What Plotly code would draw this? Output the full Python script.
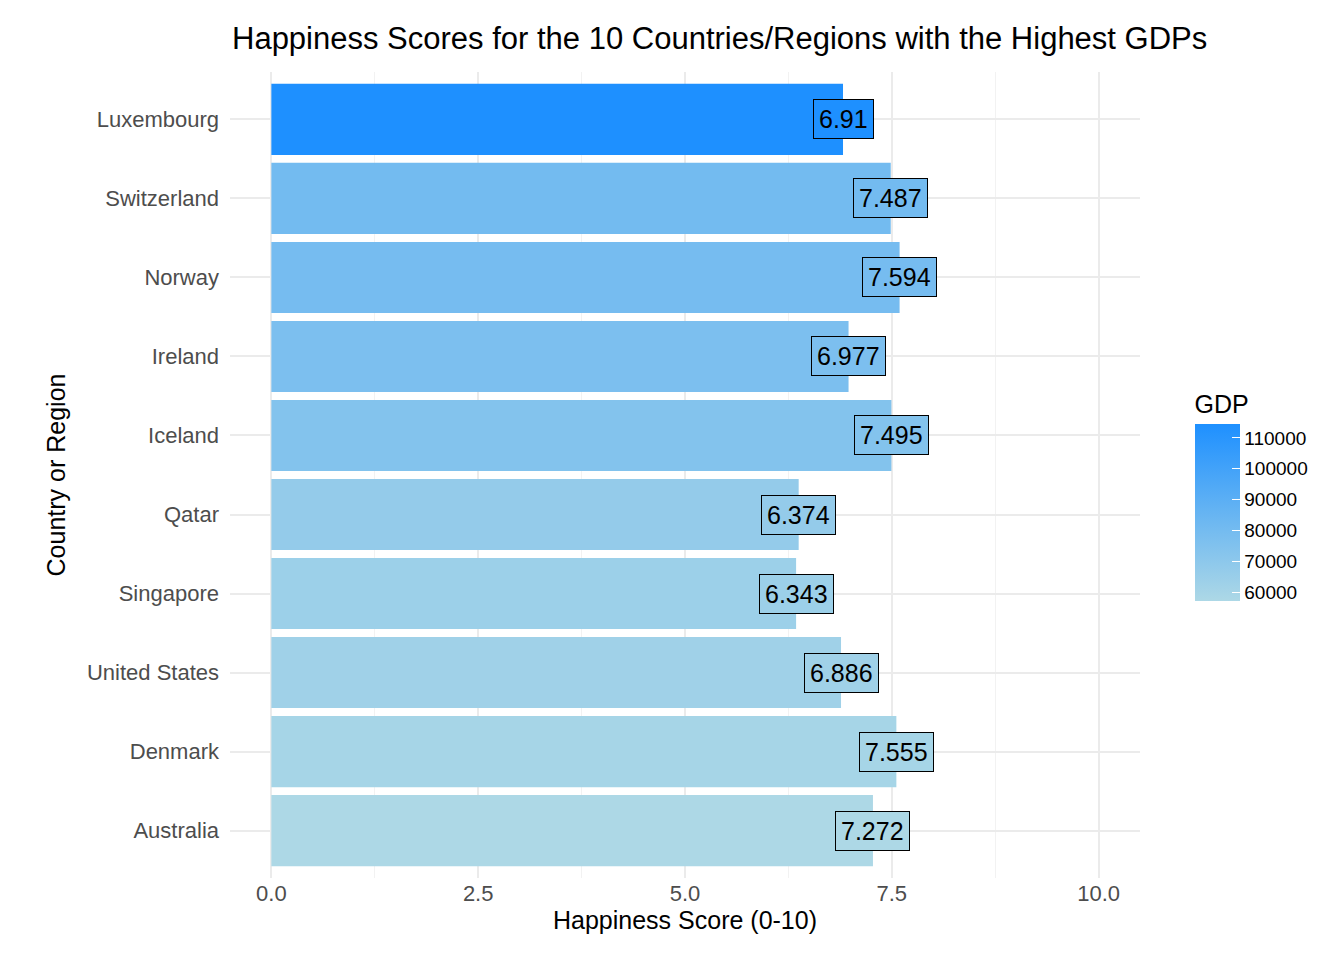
import plotly.graph_objects as go

countries = ["Australia", "Denmark", "United States", "Singapore", "Qatar",
             "Iceland", "Ireland", "Norway", "Switzerland", "Luxembourg"]
scores = [7.272, 7.555, 6.886, 6.343, 6.374, 7.495, 6.977, 7.594, 7.487, 6.91]
gdp = [57300, 60000, 62500, 64000, 67500, 74000, 77000, 79500, 80500, 114500]

lo, hi = (173, 216, 230), (30, 144, 255)
gmin, gmax = min(gdp), max(gdp)


def col(v):
    t = (v - gmin) / (gmax - gmin)
    return "rgb(%d,%d,%d)" % tuple(round(a + (b - a) * t) for a, b in zip(lo, hi))


fig = go.Figure(go.Bar(
    x=scores, y=countries, orientation="h", width=0.9,
    marker=dict(color=gdp, colorscale=[[0, "rgb(173,216,230)"], [1, "rgb(30,144,255)"]],
                cmin=gmin, cmax=gmax, line=dict(width=0),
                colorbar=dict(title=dict(text="GDP", font=dict(size=25, color="#000")),
                              lenmode="pixels", len=230, thickness=45,
                              x=1.049, xanchor="left", y=0.474, yanchor="middle",
                              outlinewidth=0, ticks="inside", ticklen=8, tickcolor="white",
                              tickvals=[60000, 70000, 80000, 90000, 100000, 110000],
                              tickformat="d",
                              tickfont=dict(size=19, color="#000"))),
    hoverinfo="skip"))

for c, s, g in zip(countries, scores, gdp):
    fig.add_annotation(x=s, y=c, text=str(s), showarrow=False, bgcolor=col(g),
                       bordercolor="black", borderwidth=1, borderpad=5,
                       font=dict(size=25, color="black"))

fig.update_layout(
    width=1344, height=960, plot_bgcolor="white", paper_bgcolor="white",
    margin=dict(l=222, r=212, t=64, b=90, autoexpand=False),
    font=dict(family="Liberation Sans, Arial", color="#4d4d4d"),
    title=dict(text="Happiness Scores for the 10 Countries/Regions with the Highest GDPs",
               x=224 / 1344, xanchor="left", y=1 - 30 / 960, yanchor="middle",
               font=dict(size=31, color="#000")),
    showlegend=False,
)
fig.update_xaxes(range=[-0.5, 10.5], tickvals=[0, 2.5, 5, 7.5, 10],
                 ticktext=["0.0", "2.5", "5.0", "7.5", "10.0"], automargin=False,
                 tickfont=dict(size=22), gridcolor="#ebebeb", gridwidth=2, zeroline=False,
                 minor=dict(tickvals=[1.25, 3.75, 6.25, 8.75], showgrid=True,
                            gridcolor="#f2f2f2", gridwidth=1),
                 title=dict(text="Happiness Score (0-10)", font=dict(size=25, color="#000"),
                            standoff=6))
fig.update_yaxes(range=[-0.6, 9.6], tickfont=dict(size=22), gridcolor="#ebebeb",
                 gridwidth=2, ticklabelstandoff=10, automargin=False,
                 title=dict(text="Country or Region", font=dict(size=25, color="#000"),
                            standoff=14))

fig.write_html("out.html")
